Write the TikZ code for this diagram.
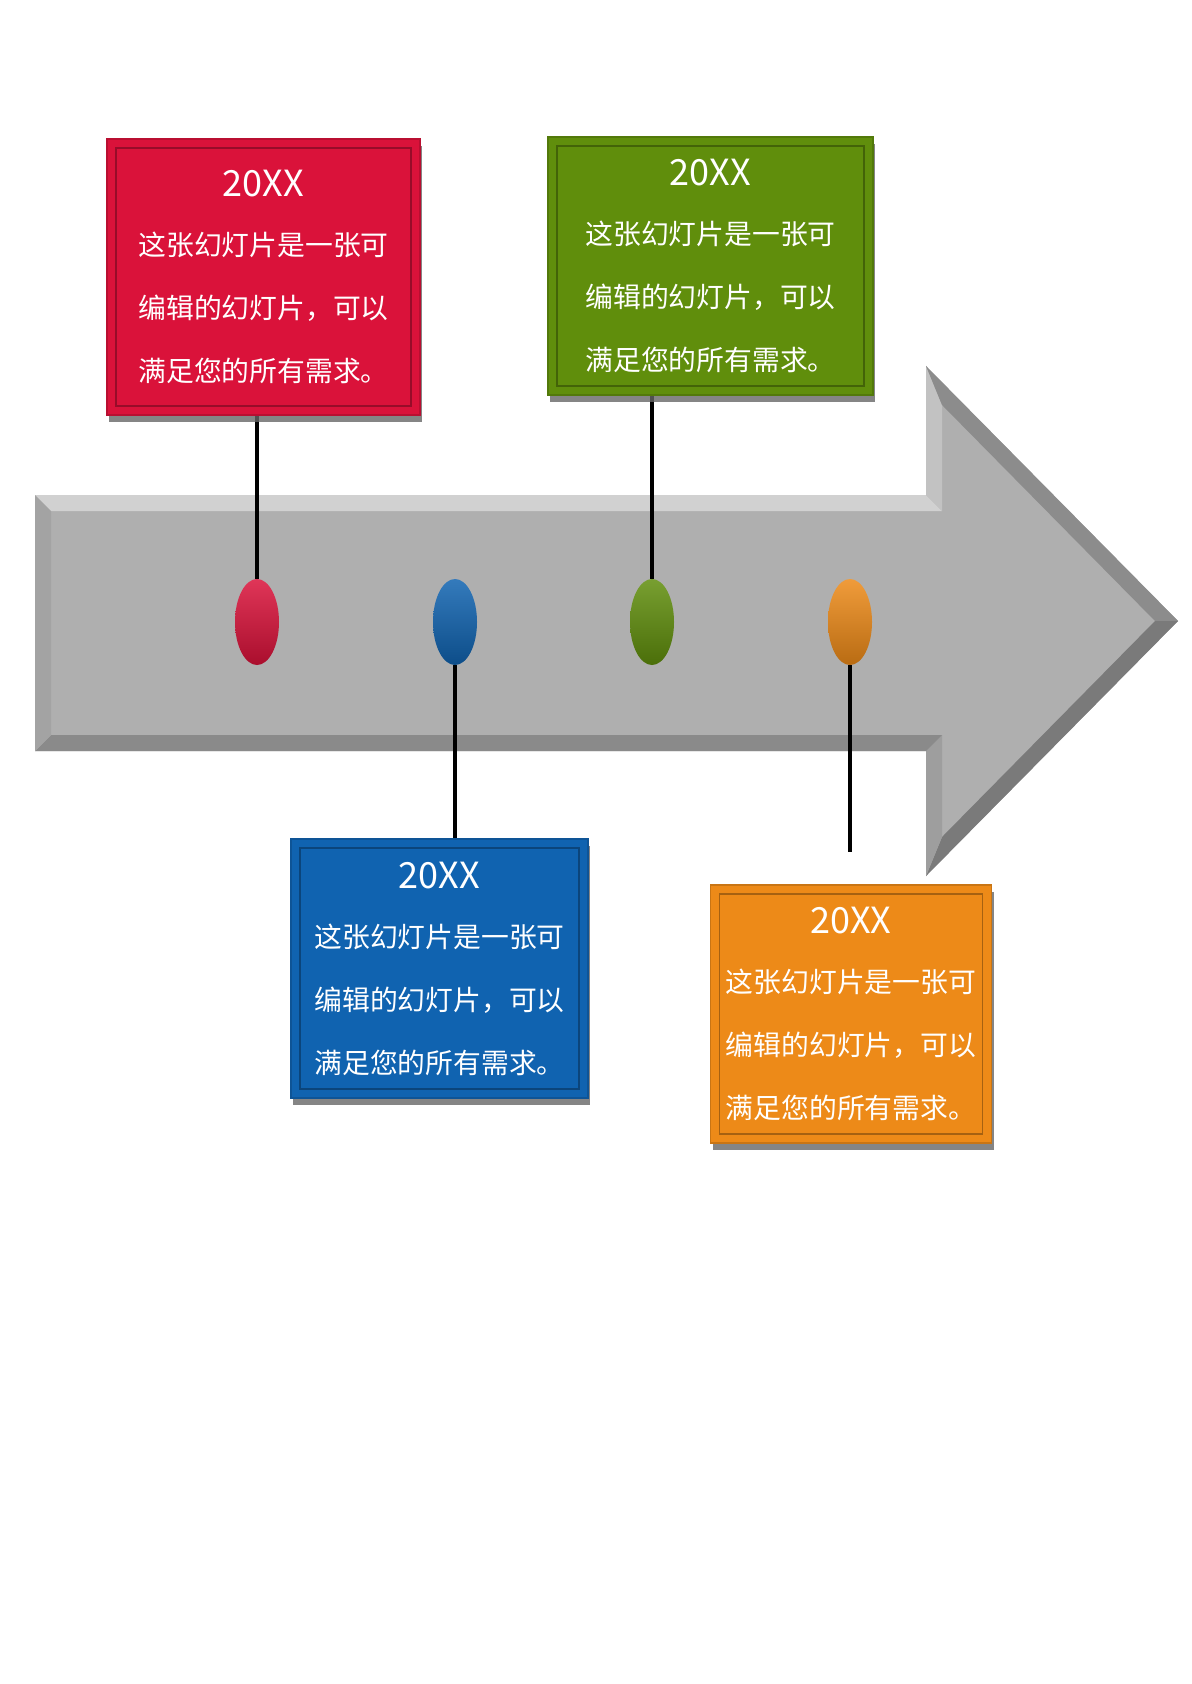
\documentclass[tikz,border=0pt]{standalone}
\usepackage{fontspec}
\newfontfamily\cjk{Noto Sans CJK SC}
\usetikzlibrary{shapes.geometric,shadows}

\definecolor{cardred}{RGB}{218,18,58}
\definecolor{cardgreen}{RGB}{96,142,12}
\definecolor{cardblue}{RGB}{16,99,176}
\definecolor{cardorange}{RGB}{237,138,24}
\definecolor{arrowface}{RGB}{175,175,175}

\def\cardtext{{\fontsize{18}{31.5}\selectfont 20XX}\\[-2pt]这张幻灯片是一张可\\编辑的幻灯片，可以\\满足您的所有需求。}

\pgfdeclarelayer{back}
\pgfdeclarelayer{wire}
\pgfsetlayers{back,wire,main}

\tikzset{
	card/.style={rectangle, fill=#1, draw=#1!85!black, line width=0.6pt, text=white, align=center, inner sep=0pt,
		font=\cjk\fontsize{13.9}{31.5}\selectfont,
		drop shadow={shadow xshift=1pt, shadow yshift=-3.5pt, fill=black!60, opacity=0.8},
		path picture={\draw[#1!70!black, line width=0.8pt] ([shift={(4.5pt,-4.5pt)}]path picture bounding box.north west) rectangle ([shift={(-4.5pt,4.5pt)}]path picture bounding box.south east);}},
	bead/.style={ellipse, minimum width=22pt, minimum height=43pt, inner sep=0pt,
		top color=#1!85!white, middle color=#1, bottom color=#1!78!black},
	wire/.style={line width=1.6pt, color=black}
}

\begin{document}
\begin{tikzpicture}[x=0.5pt, y=-0.5pt]
	%%%%% START %%%%%
	\useasboundingbox (0,0) rectangle (1191,1684);
	
	% arrow
	\begin{pgfonlayer}{back}
		\fill[arrowface] (35,495) -- (926,495) -- (926,366) -- (1178,621) -- (926,876) -- (926,751) -- (35,751) -- cycle;
		\fill[black!18] (35,495) -- (926,495) -- (942,511) -- (51,511) -- cycle;
		\fill[black!24] (926,495) -- (926,366) -- (942,405) -- (942,511) -- cycle;
		\fill[black!45] (926,366) -- (1178,621) -- (1155,621) -- (942,405) -- cycle;
		\fill[black!52] (1178,621) -- (926,876) -- (942,837) -- (1155,621) -- cycle;
		\fill[black!38] (926,876) -- (926,751) -- (942,735) -- (942,837) -- cycle;
		\fill[black!46] (926,751) -- (35,751) -- (51,735) -- (942,735) -- cycle;
		\fill[black!36] (35,751) -- (35,495) -- (51,511) -- (51,735) -- cycle;
	\end{pgfonlayer}
	
	% cards
	\node[card=cardred, minimum width=156.5pt, minimum height=138pt] (red card) at (263.5,277) {\cardtext};
	\node[card=cardgreen, minimum width=162.5pt, minimum height=129pt] (green card) at (710.5,266) {\cardtext};
	\node[card=cardblue, minimum width=148.5pt, minimum height=129.5pt] (blue card) at (439.5,968.5) {\cardtext};
	\node[card=cardorange, minimum width=140.5pt, minimum height=129pt] (orange card) at (851,1014) {\cardtext};
	
	% beads
	\node[bead=cardred] (red bead) at (257,622) {};
	\node[bead=cardblue] (blue bead) at (455,622) {};
	\node[bead=cardgreen] (green bead) at (652,622) {};
	\node[bead=cardorange] (orange bead) at (850,622) {};
	\coordinate (orange end) at (850,852);
	
	% wires
	\begin{pgfonlayer}{wire}
		\draw[wire] (red bead |- red card.south) -- (red bead.north);
		\draw[wire] (green bead |- green card.south) -- (green bead.north);
		\draw[wire] (blue bead.south) -- (blue bead |- blue card.north);
		\draw[wire] (orange bead.south) -- (orange end);
	\end{pgfonlayer}
	%%%%% END %%%%%
\end{tikzpicture}
\end{document}
